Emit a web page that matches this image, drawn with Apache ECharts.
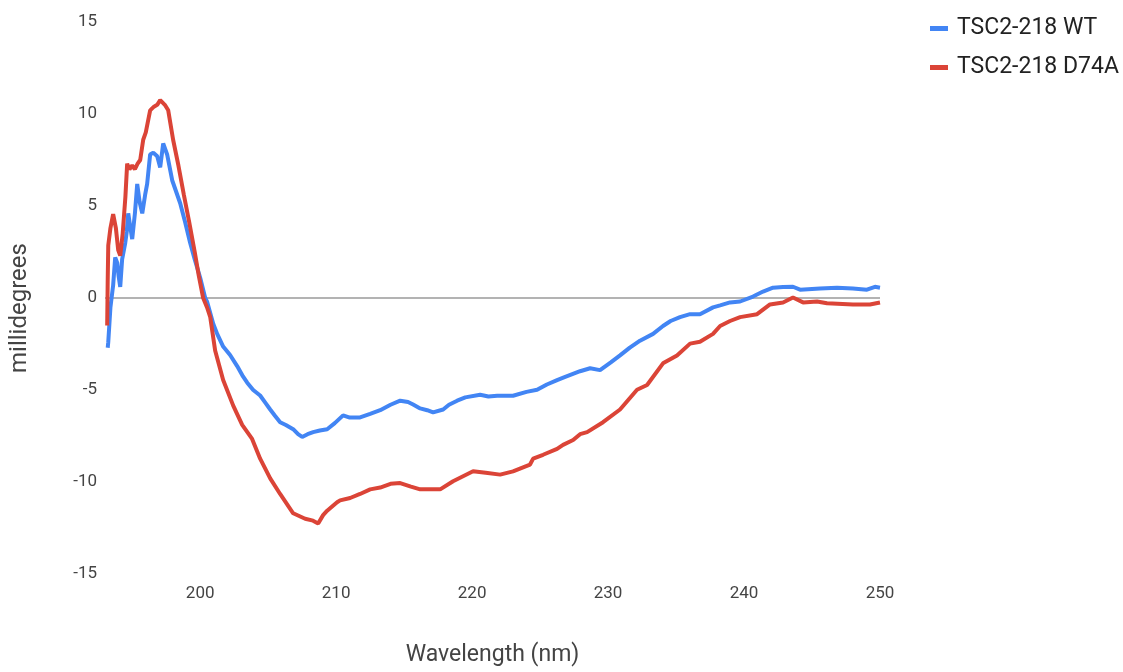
<!DOCTYPE html>
<html>
<head>
<meta charset="utf-8">
<title>CD spectra TSC2-218</title>
<script src="https://cdn.jsdelivr.net/npm/echarts@6/dist/echarts.min.js"></script>
<style>
  html, body { margin: 0; padding: 0; background: #fff; }
  #chart { width: 1123px; height: 672px; }
</style>
</head>
<body>
<div id="chart"></div>
<script>
// Circular dichroism spectra, [wavelength (nm), millidegrees]
const seriesNames = ['TSC2-218 WT', 'TSC2-218 D74A'];

const wtData = [
  [193.2, -2.7], [193.24, -2.4], [193.4, -0.5], [193.6, 0.7], [193.75, 2.2], [193.9, 1.9],
  [194.0, 1.2], [194.12, 0.6], [194.26, 2.1], [194.49, 3.0], [194.6, 3.6], [194.71, 4.6],
  [194.85, 3.9], [195.0, 3.2], [195.2, 4.6], [195.37, 6.2], [195.55, 5.2], [195.74, 4.6],
  [195.95, 5.6], [196.1, 6.2], [196.32, 7.8], [196.55, 7.9], [196.84, 7.7], [197.06, 7.1],
  [197.28, 8.4], [197.4, 8.5], [197.57, 7.8], [197.94, 6.4], [198.53, 5.15], [198.9, 4.1],
  [199.26, 3.0], [199.6, 2.1], [200.0, 1.1], [200.37, 0.0], [200.51, -0.2], [200.96, -1.4],
  [201.25, -1.95], [201.69, -2.64], [202.2, -3.1], [202.72, -3.7], [203.1, -4.2], [203.46, -4.6],
  [203.9, -5.0], [204.41, -5.3], [204.8, -5.7], [205.15, -6.06], [205.5, -6.4], [205.88, -6.75],
  [206.3, -6.9], [206.84, -7.13], [207.2, -7.4], [207.5, -7.55], [207.9, -7.4], [208.31, -7.29],
  [208.8, -7.2], [209.34, -7.13], [209.9, -6.8], [210.51, -6.38], [211.0, -6.5], [211.76, -6.49],
  [212.5, -6.3], [213.24, -6.1], [214.0, -5.8], [214.71, -5.58], [215.29, -5.65], [215.66, -5.79],
  [216.18, -6.0], [216.7, -6.1], [217.13, -6.22], [217.87, -6.06], [218.3, -5.8], [218.9, -5.58],
  [219.5, -5.4], [220.59, -5.26], [221.2, -5.35], [221.84, -5.31], [223.01, -5.31], [224.0, -5.1],
  [224.78, -4.99], [225.5, -4.7], [226.25, -4.46], [226.8, -4.3], [227.94, -3.98], [228.68, -3.82],
  [229.41, -3.92], [230.2, -3.5], [230.88, -3.12], [231.6, -2.7], [232.35, -2.32], [233.31, -1.95],
  [234.04, -1.52], [234.6, -1.25], [235.29, -1.04], [236.03, -0.88], [236.76, -0.88], [237.72, -0.51],
  [238.24, -0.4], [238.97, -0.24], [239.71, -0.19], [240.66, 0.08], [241.4, 0.35], [242.13, 0.56],
  [242.87, 0.6], [243.6, 0.61], [244.12, 0.45], [245.59, 0.51], [246.84, 0.56], [248.01, 0.51],
  [249.04, 0.45], [249.63, 0.61], [250.0, 0.56]
];

const d74aData = [
  [193.16, -1.5], [193.2, 1.0], [193.24, 2.85], [193.4, 3.8], [193.6, 4.56], [193.8, 3.8],
  [193.97, 2.6], [194.12, 2.3], [194.3, 3.5], [194.5, 5.5], [194.63, 7.3], [194.8, 7.0],
  [195.0, 7.2], [195.2, 7.0], [195.4, 7.3], [195.59, 7.5], [195.81, 8.6], [196.0, 9.0],
  [196.32, 10.2], [196.6, 10.4], [196.84, 10.5], [197.06, 10.75], [197.2, 10.8], [197.4, 10.5],
  [197.65, 10.2], [198.01, 8.6], [198.4, 7.2], [198.8, 5.6], [199.2, 4.1], [199.6, 2.5],
  [199.9, 1.2], [200.22, 0.0], [200.5, -0.5], [200.74, -1.04], [201.1, -2.85], [201.69, -4.46],
  [202.43, -5.85], [203.09, -6.9], [203.82, -7.66], [204.41, -8.73], [205.15, -9.8], [205.88, -10.65],
  [206.84, -11.7], [207.72, -12.0], [208.3, -12.1], [208.68, -12.25], [209.04, -11.8], [209.34, -11.56],
  [210.07, -11.1], [210.29, -11.0], [211.03, -10.87], [211.76, -10.65], [212.5, -10.4], [213.24, -10.3],
  [214.0, -10.1], [214.71, -10.06], [215.5, -10.25], [216.18, -10.4], [217.65, -10.4], [218.6, -9.96],
  [219.3, -9.7], [220.07, -9.42], [221.0, -9.5], [222.06, -9.6], [223.01, -9.42], [224.26, -9.05],
  [224.49, -8.73], [225.22, -8.52], [226.25, -8.2], [226.69, -7.98], [227.43, -7.72], [227.94, -7.4],
  [228.46, -7.29], [229.63, -6.75], [230.88, -6.06], [232.13, -4.99], [232.87, -4.73], [234.04, -3.55],
  [235.07, -3.12], [236.03, -2.48], [236.76, -2.38], [237.72, -1.95], [238.24, -1.52], [238.97, -1.25],
  [239.71, -1.04], [240.96, -0.88], [241.91, -0.35], [242.87, -0.24], [243.6, 0.03], [244.34, -0.24],
  [245.37, -0.19], [246.1, -0.29], [248.01, -0.35], [249.26, -0.35], [250.0, -0.24]
];

const xTicks = [200, 210, 220, 230, 240, 250];
const yTicks = [-15, -10, -5, 0, 5, 10, 15];

const colors = ['#4285F4', '#DB4437'];
const fontFamily = 'Roboto, "Noto Sans", sans-serif';

const chart = echarts.init(document.getElementById('chart'), null, { renderer: 'canvas' });

chart.setOption({
  animation: false,
  backgroundColor: '#ffffff',
  color: colors,
  textStyle: { fontFamily: fontFamily },
  grid: { left: 105, right: 243, top: 22, bottom: 88, containLabel: false },
  legend: {
    orient: 'vertical',
    left: 925,
    top: 12,
    itemWidth: 18,
    itemHeight: 5,
    itemGap: 16,
    icon: 'rect',
    data: seriesNames,
    textStyle: { fontSize: 23, color: '#222222', fontFamily: fontFamily, padding: [0, 0, 0, 4] }
  },
  xAxis: {
    type: 'value',
    min: 193,
    max: 250,
    axisLine: { show: false, onZero: false },
    axisTick: { show: false },
    splitLine: { show: false },
    axisLabel: {
      color: '#444444',
      fontSize: 17,
      margin: 11,
      customValues: xTicks,
      formatter: v => String(v)
    },
    name: 'Wavelength (nm)',
    nameLocation: 'middle',
    nameGap: 70,
    nameTextStyle: { fontSize: 23, color: '#444444' }
  },
  yAxis: {
    type: 'value',
    min: -15,
    max: 15,
    interval: 5,
    axisLine: { show: false },
    axisTick: { show: false },
    splitLine: { show: false },
    axisLabel: {
      color: '#444444',
      fontSize: 17,
      margin: 8,
      customValues: yTicks
    },
    name: 'millidegrees',
    nameLocation: 'middle',
    nameGap: 73,
    nameTextStyle: { fontSize: 24, color: '#444444', padding: [0, 20, 0, 0] }
  },
  series: [
    {
      name: seriesNames[0],
      type: 'line',
      data: wtData,
      showSymbol: false,
      symbol: 'none',
      lineStyle: { width: 4, color: colors[0] },
      z: 3,
      markLine: {
        silent: true,
        symbol: ['none', 'none'],
        label: { show: false },
        lineStyle: { color: '#9a9a9a', width: 1.5, type: 'solid' },
        data: [{ yAxis: 0 }],
        z: 1
      }
    },
    {
      name: seriesNames[1],
      type: 'line',
      data: d74aData,
      showSymbol: false,
      symbol: 'none',
      lineStyle: { width: 4, color: colors[1] },
      z: 4
    }
  ]
});
</script>
</body>
</html>
